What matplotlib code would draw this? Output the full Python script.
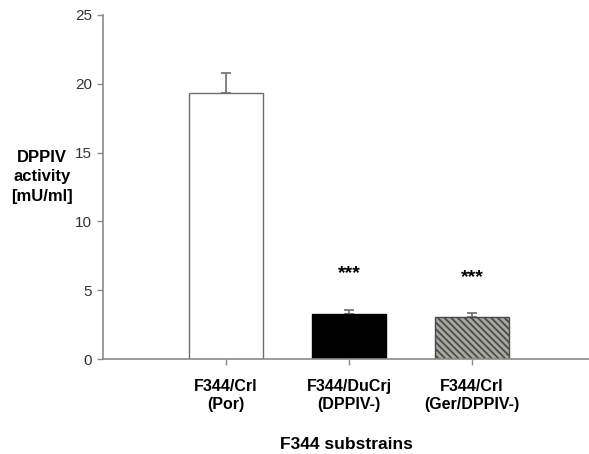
import matplotlib
matplotlib.use("Agg")
import matplotlib.pyplot as plt

plt.rcParams["font.family"] = ["Liberation Sans", "DejaVu Sans"]
plt.rcParams["hatch.linewidth"] = 1.3

# DPPIV activity per substrain
strains = ["F344/Crl\n(Por)", "F344/DuCrj\n(DPPIV-)", "F344/Crl\n(Ger/DPPIV-)"]
activity = [19.3, 3.25, 3.05]
sem = [1.5, 0.3, 0.3]
stars_y = [None, 6.25, 5.9]

positions = [1, 2, 3]
faces = ["white", "black", "#a8a8a0"]
hatches = [None, None, "\\\\\\\\\\"]
axis_col = "#8a8a8a"

fig = plt.figure(figsize=(5.89, 4.54), dpi=100)
ax = fig.add_axes([0.175, 0.209, 0.825, 0.758])

for x, h, e, fc, ht in zip(positions, activity, sem, faces, hatches):
    ax.bar(x, h, width=0.6, color=fc, edgecolor="#6e6e6e" if fc != "black" else "black",
           linewidth=1.0, hatch=ht, zorder=2)
    if ht:
        ax.patches[-1].set_edgecolor("#4a4a4a")
    ax.errorbar(x, h, yerr=[[0], [e]], fmt="none", ecolor="#777777",
                elinewidth=1.3, capsize=3.5, capthick=1.3, zorder=1)

for x, s in zip(positions, stars_y):
    if s is not None:
        ax.text(x, s, "***", ha="center", va="center", fontsize=14, fontweight="bold")

ax.set_xlim(0, 3.95)
ax.set_ylim(0, 25)
ax.set_yticks([0, 5, 10, 15, 20, 25])
ax.set_xticks(positions)
ax.set_xticklabels(strains, fontsize=11.5, fontweight="bold", linespacing=1.25)

for side in ["top", "right"]:
    ax.spines[side].set_visible(False)
for side in ["left", "bottom"]:
    ax.spines[side].set_color(axis_col)
    ax.spines[side].set_linewidth(1.2)

ax.tick_params(axis="both", direction="out", length=4, width=1, color=axis_col,
               labelcolor="#333333")
ax.tick_params(axis="y", labelsize=11, pad=4)
ax.tick_params(axis="x", labelcolor="black", pad=10)

ax.set_xlabel("F344 substrains", fontsize=12.5, fontweight="bold", labelpad=18)
ax.set_ylabel("DPPIV\nactivity\n[mU/ml]", fontsize=12, fontweight="bold",
              rotation=0, ha="center", va="center", linespacing=1.38)
ax.yaxis.set_label_coords(-0.126, 0.53)

fig.savefig("out.png", dpi=100)
